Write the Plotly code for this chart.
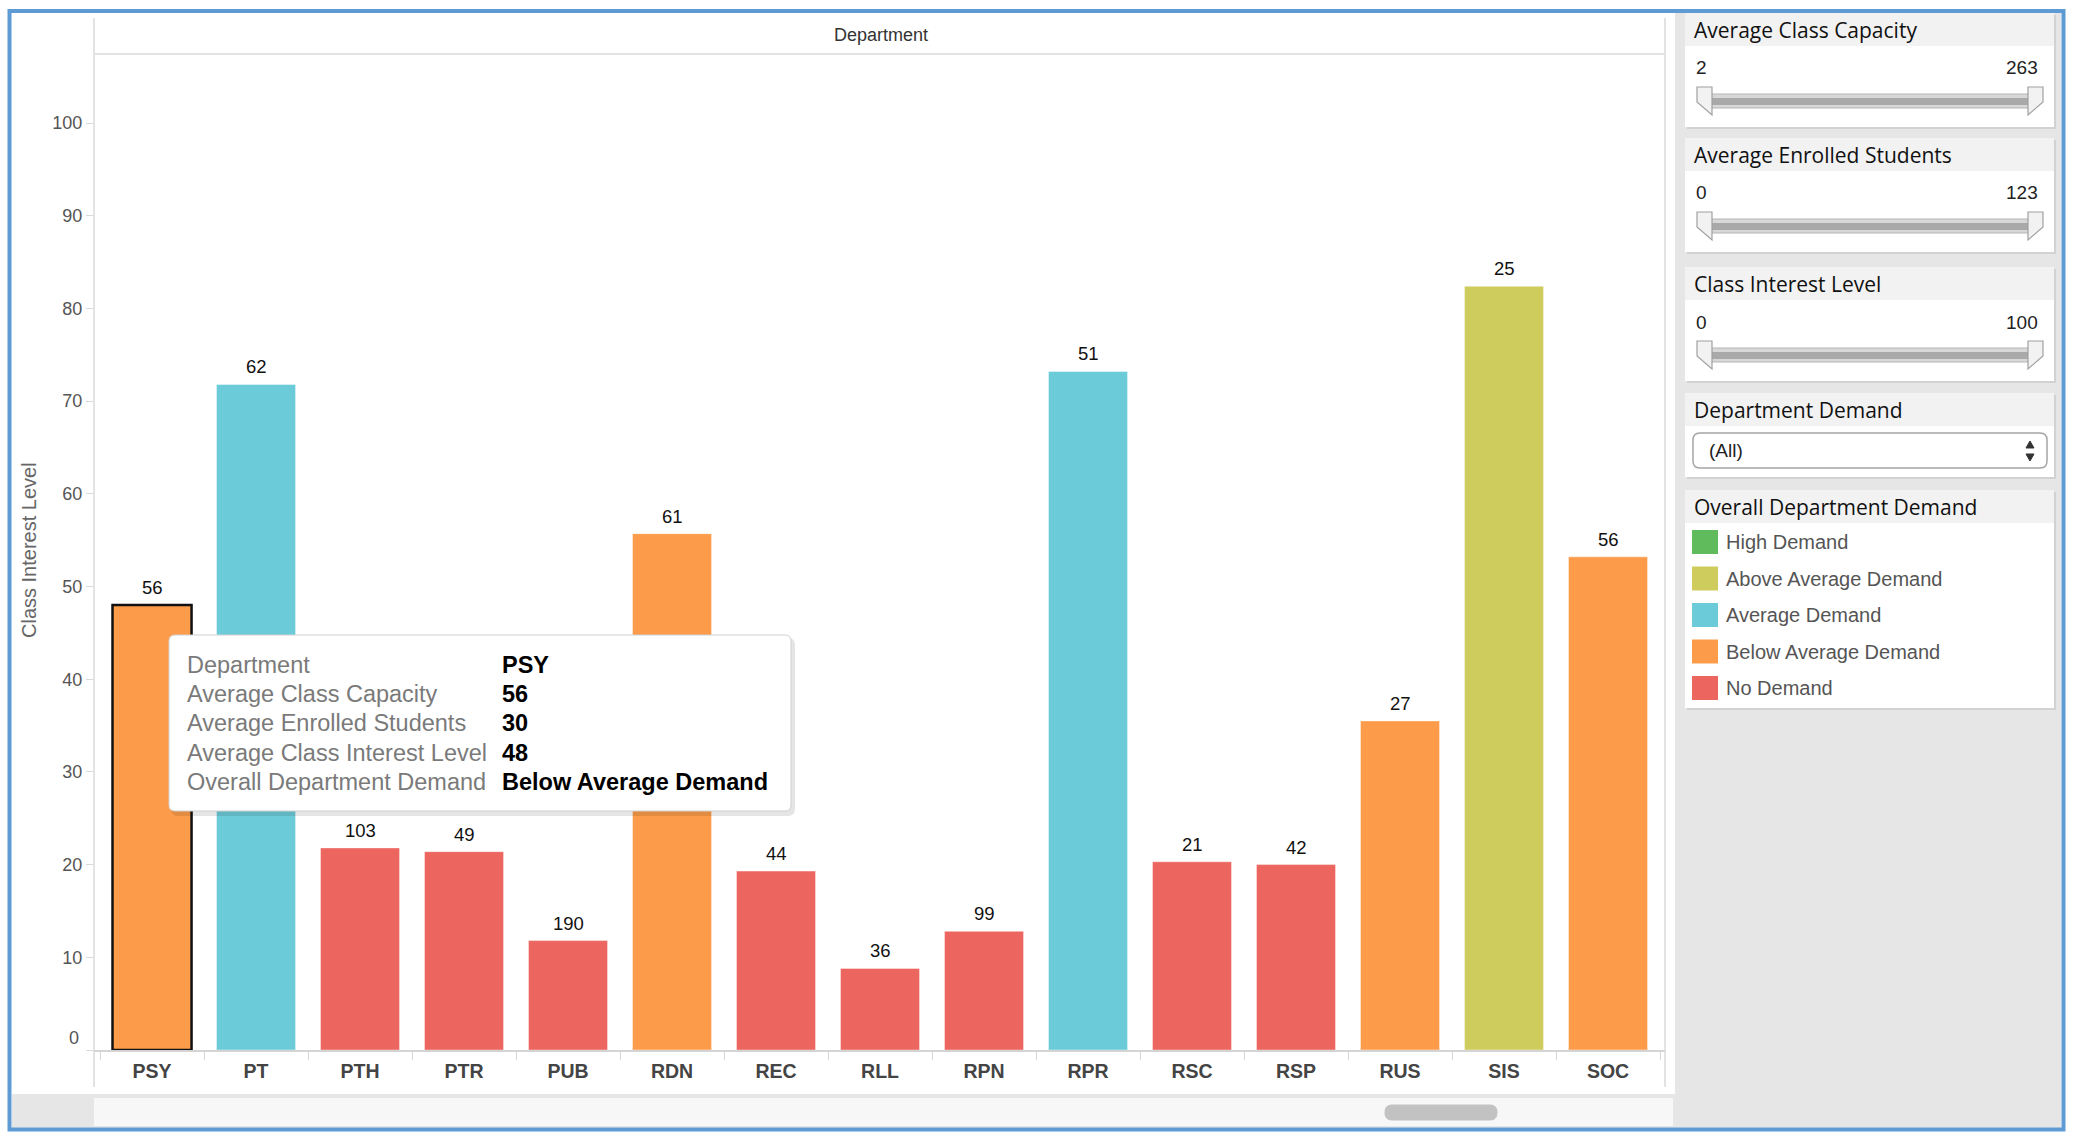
import plotly.graph_objects as go

# ---------------- data ----------------
departments = ["PSY", "PT", "PTH", "PTR", "PUB", "RDN", "REC", "RLL", "RPN",
               "RPR", "RSC", "RSP", "RUS", "SIS", "SOC"]
interest_level = [48, 71.8, 21.8, 21.4, 11.8, 55.7, 19.3, 8.8, 12.8,
                  73.2, 20.3, 20.0, 35.5, 82.4, 53.2]
class_capacity = [56, 62, 103, 49, 190, 61, 44, 36, 99, 51, 21, 42, 27, 25, 56]
demand = ["Below Average Demand", "Average Demand", "No Demand", "No Demand",
          "No Demand", "Below Average Demand", "No Demand", "No Demand",
          "No Demand", "Average Demand", "No Demand", "No Demand",
          "Below Average Demand", "Above Average Demand", "Below Average Demand"]
demand_levels = ["High Demand", "Above Average Demand", "Average Demand",
                 "Below Average Demand", "No Demand"]
demand_colors = ["#5FBB5B", "#CFCC5E", "#6CCBD8", "#FC9C4A", "#EC665F"]
y_ticks = list(range(0, 101, 10))

selected = "PSY"
selected_enrolled = 30

filter_titles = ["Average Class Capacity", "Average Enrolled Students", "Class Interest Level"]
filter_min = [2, 0, 0]
filter_max = [263, 123, 100]

FONT = "Liberation Sans, Arial, sans-serif"
UI_FONT = "Open Sans, DejaVu Sans, sans-serif"

# ---------------- geometry (pixels) ----------------
L, R, T, B = 94, 1665, 54, 1050
W, H = R - L, B - T


def px(X):
    return (X - L) / W


def py(Y):
    return (B - Y) / H


shapes = []
annotations = []


def rect(x0, y0, x1, y1, fill, line=None, lw=0, layer="below"):
    shapes.append(dict(type="rect", xref="paper", yref="paper",
                       x0=px(x0), x1=px(x1), y0=py(y1), y1=py(y0),
                       fillcolor=fill, layer=layer,
                       line=dict(color=line or fill, width=lw)))


def line(x0, y0, x1, y1, color, w=1, layer="below"):
    shapes.append(dict(type="line", xref="paper", yref="paper",
                       x0=px(x0), x1=px(x1), y0=py(y0), y1=py(y1),
                       layer=layer, line=dict(color=color, width=w)))


def poly(points, fill, color, lw=1, layer="below"):
    d = "M " + " L ".join(f"{px(a):.6f},{py(b):.6f}" for a, b in points) + " Z"
    shapes.append(dict(type="path", xref="paper", yref="paper", path=d,
                       fillcolor=fill, layer=layer, line=dict(color=color, width=lw)))


def rrect(x0, y0, x1, y1, r, fill, color, lw=1, layer="below"):
    def P(a, b):
        return f"{px(a):.6f},{py(b):.6f}"
    d = (f"M {P(x0 + r, y0)} L {P(x1 - r, y0)} Q {P(x1, y0)} {P(x1, y0 + r)} "
         f"L {P(x1, y1 - r)} Q {P(x1, y1)} {P(x1 - r, y1)} "
         f"L {P(x0 + r, y1)} Q {P(x0, y1)} {P(x0, y1 - r)} "
         f"L {P(x0, y0 + r)} Q {P(x0, y0)} {P(x0 + r, y0)} Z")
    shapes.append(dict(type="path", xref="paper", yref="paper", path=d,
                       fillcolor=fill, layer=layer,
                       line=dict(color=color, width=lw)))


def text(x, y, s, size=18, color="#333", anchor="left", family=FONT, angle=0, weight="normal"):
    annotations.append(dict(xref="paper", yref="paper", x=px(x), y=py(y),
                            text=s, showarrow=False, xanchor=anchor, yanchor="middle",
                            textangle=angle,
                            font=dict(family=family, size=size, color=color, weight=weight)))


# ---------------- background / frame ----------------
rect(1675, 13, 2061, 1128, "#E6E6E6")
rect(12, 1094, 1675, 1128, "#E6E6E6")
rect(94, 1098, 1673, 1126, "#F7F7F7")
rrect(1385, 1105, 1497, 1120, 7, "#C2C2C2", "#C2C2C2")

line(94, 18, 94, 1087, "#E3E3E3", 2)
line(1665, 18, 1665, 1087, "#E3E3E3", 2)
line(94, 54, 1665, 54, "#E3E3E3", 2)
text(881, 35, "Department", size=18, color="#333", anchor="center")
text(29, 550, "Class Interest Level", size=20, color="#666", anchor="center", angle=-90)

# "0" tick label sits slightly above the baseline, as in the original
annotations.append(dict(xref="paper", yref="y", x=px(81), y=0, yshift=12,
                        text=str(y_ticks[0]), showarrow=False, xanchor="right",
                        yanchor="middle", font=dict(family=FONT, size=18, color="#555")))

# bar value labels (average class capacity) above each bar
for d, v, c in zip(departments, interest_level, class_capacity):
    annotations.append(dict(xref="x", yref="y", x=d, y=v, yshift=5,
                            text=str(c), showarrow=False, xanchor="center",
                            yanchor="bottom",
                            font=dict(family=FONT, size=18.5, color="#111")))

# ---------------- sidebar cards ----------------
CX0, CX1 = 1685, 2054


def card(y0, y1, title):
    rect(CX0 + 2, y0 + 2, CX1 + 2, y1 + 2, "#D2D2D2")
    rect(CX0, y0, CX1, y1, "#FFFFFF")
    rect(CX0, y0, CX1, y0 + 33, "#F2F2F2")
    text(1692, y0 + 17, title, size=21, color="#111", family=UI_FONT)


card_tops = [13, 138, 267]
for top, ttl, lo, hi in zip(card_tops, filter_titles, filter_min, filter_max):
    card(top, top + 114, ttl)
    text(1694, top + 55, str(lo), size=19, color="#222")
    text(2040, top + 55, str(hi), size=19, color="#222", anchor="right")
    c = top + 88
    rect(1705, c - 7, 2035, c + 7, "#D8D8D8", "#B5B5B5", 1)
    rect(1708, c - 3, 2032, c + 4, "#A9A9A9")
    poly([(1697, c - 14), (1712, c - 14), (1712, c + 14), (1697, c + 1)], "#F2F2F2", "#A0A0A0", 1.2)
    poly([(2028, c - 14), (2043, c - 14), (2043, c + 1), (2028, c + 14)], "#F2F2F2", "#A0A0A0", 1.2)

card(393, 477, "Department Demand")
rrect(1693, 433, 2047, 468, 7, "#FFFFFF", "#A5A5A5", 1.5)
text(1707, 451, "(All)", size=19, color="#222")
poly([(2026, 448), (2034, 448), (2030, 441)], "#333", "#333", 1)
poly([(2026, 454), (2034, 454), (2030, 461)], "#333", "#333", 1)

card(490, 708, "Overall Department Demand")
for i, (lvl, col) in enumerate(zip(demand_levels, demand_colors)):
    cy = 542 + 36.5 * i
    rect(1692, cy - 12, 1718, cy + 12, col)
    text(1724, cy, lvl, size=20, color="#555")

# ---------------- tooltip ----------------
rrect(171, 638, 795, 816, 7, "rgba(0,0,0,0.10)", "rgba(0,0,0,0)", 0, layer="above")
rrect(169, 635, 791, 811, 6, "#FFFFFF", "#D0D0D0", 1, layer="above")
si = departments.index(selected)
tip_labels = ["Department", "Average Class Capacity", "Average Enrolled Students",
              "Average Class Interest Level", "Overall Department Demand"]
tip_values = [selected, str(class_capacity[si]), str(selected_enrolled),
              str(round(interest_level[si])), demand[si]]
for k, (lab, val) in enumerate(zip(tip_labels, tip_values)):
    yy = 665 + 29.2 * k
    text(185, yy, lab, size=23.5, color="#7A7A7A")
    text(500, yy, val, size=23.5, color="#000", weight="bold")

# ---------------- outer blue border ----------------
shapes.append(dict(type="rect", xref="paper", yref="paper",
                   x0=px(9.5), x1=px(2063.5), y0=py(1129.5), y1=py(11),
                   line=dict(color="#5E9BD5", width=4), layer="above"))

# ---------------- bars ----------------
cmap = dict(zip(demand_levels, demand_colors))
fig = go.Figure()
fig.add_bar(
    x=departments, y=interest_level,
    marker=dict(color=[cmap[d] for d in demand],
                line=dict(color=["#111111" if d == selected else "rgba(255,255,255,0.4)" for d in departments],
                          width=[2.5 if d == selected else 1 for d in departments])),
    cliponaxis=False, hoverinfo="skip",
)

fig.update_layout(
    width=2074, height=1140,
    margin=dict(l=L, r=2074 - R, t=T, b=1140 - B),
    paper_bgcolor="white", plot_bgcolor="white",
    showlegend=False, bargap=0.24,
    font=dict(family=FONT),
    xaxis=dict(range=[-0.558, 14.548], tickson="boundaries", ticks="outside",
               ticklen=8, tickcolor="#D4D4D4", tickwidth=1,
               showline=True, linecolor="#D4D4D4", linewidth=2,
               showgrid=False, zeroline=False, ticklabelstandoff=3,
               tickfont=dict(family=FONT, size=19.5, color="#444", weight="bold")),
    yaxis=dict(range=[0, 107.45], tickvals=y_ticks,
               ticktext=[""] + [str(v) for v in y_ticks[1:]],
               ticks="outside", ticklen=7,
               tickcolor="#D9D9D9", showline=False, showgrid=False, zeroline=False,
               tickfont=dict(family=FONT, size=18, color="#555")),
    shapes=shapes, annotations=annotations,
)

fig.write_html("out.html", post_script="document.body.style.margin='0px';",
               config={"displayModeBar": False})
